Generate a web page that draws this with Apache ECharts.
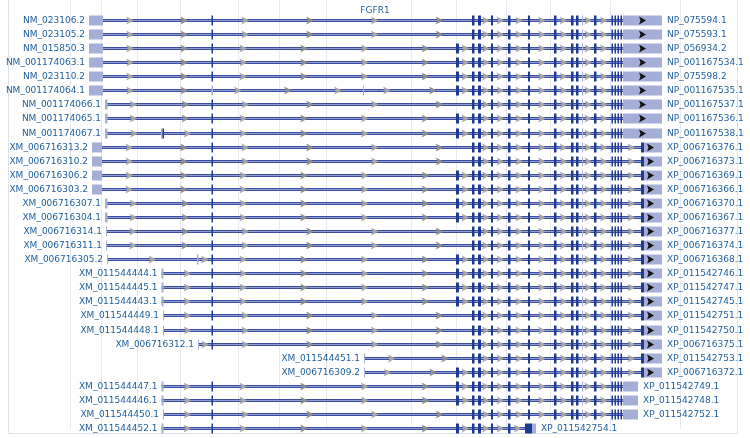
<!DOCTYPE html>
<html><head><meta charset="utf-8">
<script src="https://cdn.jsdelivr.net/npm/echarts@6/dist/echarts.min.js"></script>
<style>html,body{margin:0;padding:0;background:#fff}#c{width:750px;height:438px}</style>
</head><body><div id="c"></div>
<script>
var geneName = 'FGFR1';
var leftLabels = ['NM_023106.2','NM_023105.2','NM_015850.3','NM_001174063.1','NM_023110.2','NM_001174064.1','NM_001174066.1','NM_001174065.1','NM_001174067.1',
 'XM_006716313.2','XM_006716310.2','XM_006716306.2','XM_006716303.2','XM_006716307.1','XM_006716304.1','XM_006716314.1','XM_006716311.1','XM_006716305.2',
 'XM_011544444.1','XM_011544445.1','XM_011544443.1','XM_011544449.1','XM_011544448.1','XM_006716312.1','XM_011544451.1','XM_006716309.2',
 'XM_011544447.1','XM_011544446.1','XM_011544450.1','XM_011544452.1'];
var rightLabels = ['NP_075594.1','NP_075593.1','NP_056934.2','NP_001167534.1','NP_075598.2','NP_001167535.1','NP_001167537.1','NP_001167536.1','NP_001167538.1',
 'XP_006716376.1','XP_006716373.1','XP_006716369.1','XP_006716366.1','XP_006716370.1','XP_006716367.1','XP_006716377.1','XP_006716374.1','XP_006716368.1',
 'XP_011542746.1','XP_011542747.1','XP_011542745.1','XP_011542751.1','XP_011542750.1','XP_006716375.1','XP_011542753.1','XP_006716372.1',
 'XP_011542749.1','XP_011542748.1','XP_011542752.1','XP_011542754.1'];
var firstExon = [[89,103,'u'],[89,103,'u'],[89,103,'u'],[89,103,'u'],[89,103,'u'],[89,103,'u'],[105,107.5,'u'],[105,107.5,'u'],[105,107.5,'u'],
 [92,102,'u'],[92,102,'u'],[92,102,'u'],[92,102,'u'],[105,107.5,'u'],[105,107.5,'u'],[106,107,'u'],[106,107,'u'],[107,108,'u'],
 [161.5,163.5,'u'],[161.5,163.5,'u'],[161.5,163.5,'u'],[163,164,'u'],[163,164,'u'],[198,199,'u'],[364,365,'u'],[364,365,'u'],
 [161.5,163.5,'u'],[161.5,163.5,'u'],[163,164,'u'],[161.5,163.5,'u']];
var extraExons = [[211.5,213,'u',5],[363,364,'u',5],[161,162.5,'u',8],[162.5,164,'d',8],[197,198.5,'u',17]];
var exon212Rows = [0,1,2,3,4,6,7,8,9,10,11,12,13,14,15,16,17,18,19,20,21,22,23,26,27,28,29];
var exon457Rows = [2,3,4,5,7,8,11,12,13,14,17,18,19,20,25,26,27,29];
var coreExons = [[472,474.5],[478,481],[491,493],[508,510.5],[528,530],[554,556.5],[571,573.5],[576,578.5],[594,596.5],[611.5,613],[614.5,616],[617.5,619],[620.5,622]];
var thinMark = 582;
var endType = ['A','A','A','A','A','A','A','A','A','B','B','B','B','B','B','B','B','B','B','B','B','B','B','B','B','B','C','C','C','D'];
var gridXs = [70,101,137,180,238,279,326,411,456,506,550,610,680];

var rows = leftLabels.map(function(_, i){ return [i]; });
var chart = echarts.init(document.getElementById('c'), null, {renderer:'canvas'});
var FONT = '9px "DejaVu Sans"';
var TXT = '#1d5e9c';

function rowExons(i){
  var ex = [];
  var f = firstExon[i]; ex.push([f[0],f[1],f[2]]);
  if (exon212Rows.indexOf(i) >= 0) ex.push([211.5,213,'d']);
  extraExons.forEach(function(e){ if (e[3]===i) ex.push([e[0],e[1],e[2]]); });
  if (exon457Rows.indexOf(i) >= 0) ex.push([456,459,'d']);
  var t = endType[i];
  if (t === 'D') {
    coreExons.slice(0,4).forEach(function(c){ ex.push([c[0],c[1],'d']); });
    ex.push([525,532,'d']); ex.push([532,536,'u']);
  } else {
    coreExons.forEach(function(c){ ex.push([c[0],c[1],'d']); });
    ex.push([thinMark, thinMark+0.6, 'u']);
    if (t === 'A') ex.push([623,662,'u','arrow',642]);
    if (t === 'B') { ex.push([641,644,'d']); ex.push([644,662,'u','arrow',650]); }
    if (t === 'C') ex.push([623,638,'u']);
  }
  ex.sort(function(a,b){return a[0]-b[0];});
  return ex;
}

function renderItem(params, api){
  var i = api.value(0);
  var ex = rowExons(i);
  var y = Math.round(api.coord([0,i])[1]) + 0.5;
  var s = ex[0][0], e = ex[ex.length-1][1];
  var x0 = api.coord([s,i])[0], x1 = api.coord([e,i])[0];
  var ch = [];
  ch.push({type:'rect', shape:{x:x0,y:y-1.5,width:x1-x0,height:3}, style:{fill:'#3c4f9e'}});
  ch.push({type:'rect', shape:{x:x0,y:y-0.5,width:x1-x0,height:1}, style:{fill:'#8f9dd3'}});
  for (var k=0;k<ex.length-1;k++){
    var gs = ex[k][1], ge = ex[k+1][0], gap = ge-gs;
    if (gap < 8) continue;
    var n = Math.max(1, Math.round(gap/60));
    for (var m=0;m<n;m++){
      var ax = api.coord([gs + (m+0.5)*gap/n, i])[0];
      ch.push({type:'polygon', shape:{points:[[ax-4,y-4],[ax+4,y],[ax-4,y+4],[ax-2,y]]}, style:{fill: m%2 ? '#8e8e8e' : '#a6a6a6'}});
    }
  }
  ex.forEach(function(x){
    var a = api.coord([x[0],i])[0], b = api.coord([x[1],i])[0];
    var w = Math.max(1, b-a);
    ch.push({type:'rect', shape:{x:a,y:y-5,width:w,height:10}, style:{fill: x[2]==='d' ? '#1f3a92' : '#a4aed6'}});
    if (x[3]==='arrow'){
      var px = api.coord([x[4],i])[0];
      ch.push({type:'polygon', shape:{points:[[px-3,y-4],[px+4,y],[px-3,y+4],[px-1.5,y]]}, style:{fill:'#111'}});
    }
  });
  ch.push({type:'text', x:x0-4, y:y, style:{text:leftLabels[i], font:FONT, fill:TXT, align:'right', verticalAlign:'middle'}});
  ch.push({type:'text', x:x1+5, y:y, style:{text:rightLabels[i], font:FONT, fill:TXT, align:'left', verticalAlign:'middle'}});
  return {type:'group', children:ch};
}

chart.setOption({
  animation:false,
  title:{text:geneName, left:'center', top:1, textStyle:{fontSize:9, fontWeight:'normal', color:TXT, fontFamily:'DejaVu Sans'}},
  grid:{left:0,right:0,top:0,bottom:0},
  xAxis:{type:'value', min:0, max:750, show:false},
  yAxis:{type:'value', min:-1.421, max:29.71, inverse:true, show:false},
  graphic:[{type:'rect', shape:{x:8.5,y:-1,width:729,height:434.5}, style:{fill:'none', stroke:'#dde1ea', lineWidth:1}, z:-10}],
  series:[{
    type:'custom', renderItem:renderItem, data:rows, encode:{x:-1,y:0}, clip:false,
    markLine:{silent:true, symbol:'none', animation:false, z:-5,
      lineStyle:{color:'#e6e9f0', type:'solid', width:1},
      label:{show:false},
      data: gridXs.map(function(v){ return [{coord:[v,-1.421]},{coord:[v,29.1]}]; })
    }
  }]
});
</script></body></html>
